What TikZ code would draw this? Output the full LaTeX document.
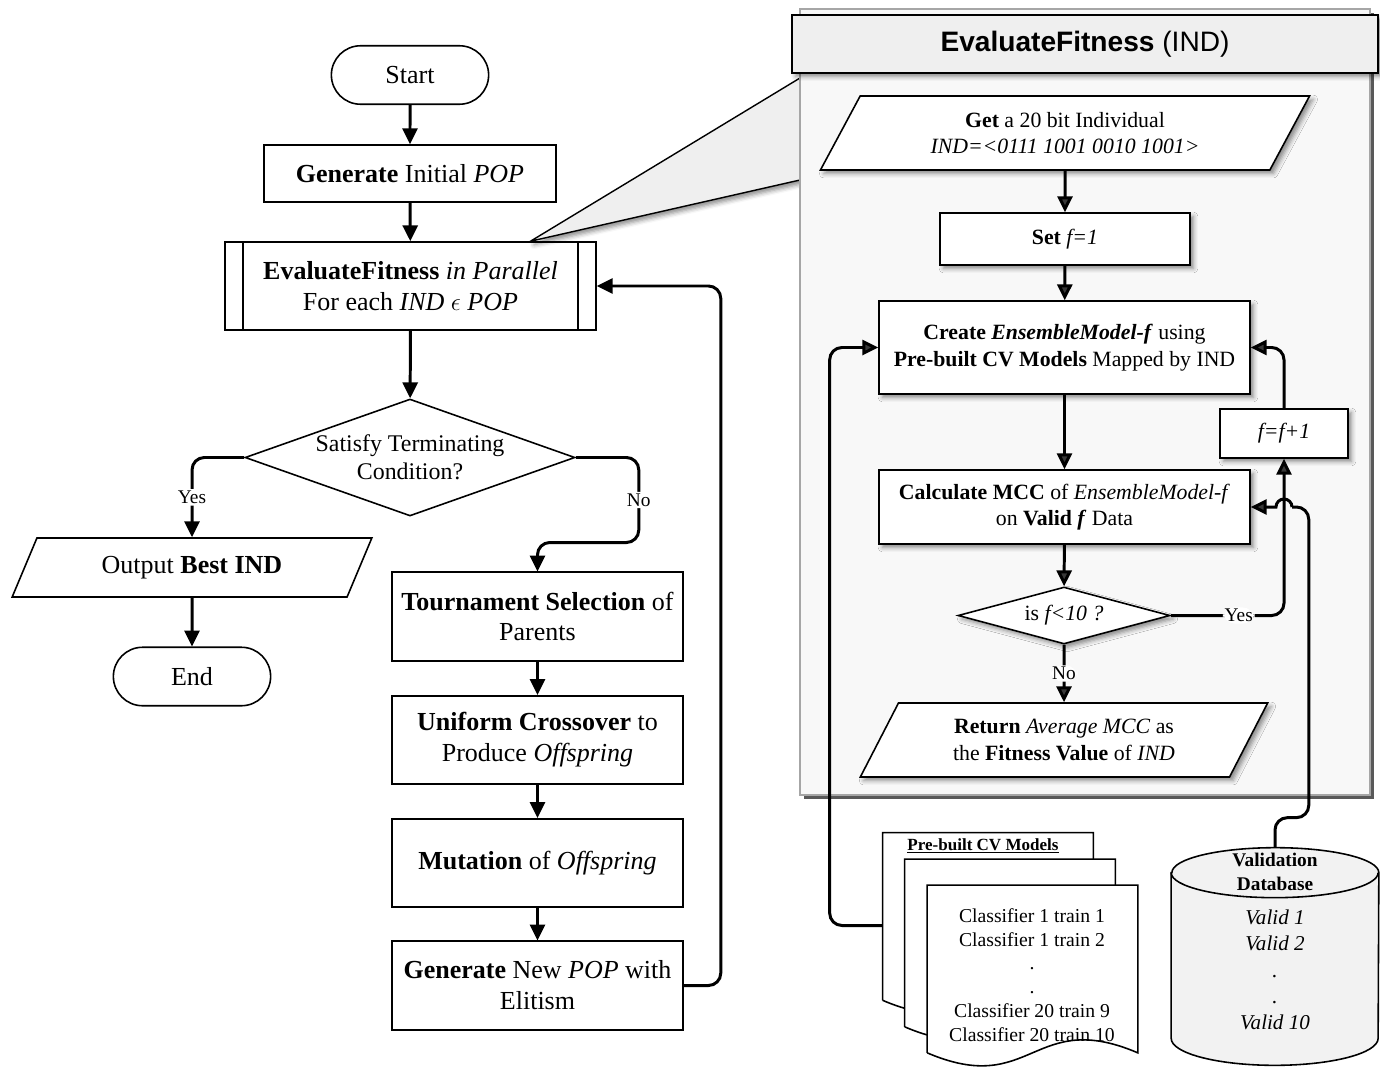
\documentclass[tikz,border=0pt]{standalone}
\usepackage{fontspec}
\setmainfont{Liberation Serif}
\setsansfont{Liberation Sans}
\usetikzlibrary{arrows.meta,shapes.geometric,shapes.misc,shadows,shadows.blur,calc}
\newcommand\bigtxt{\fontsize{14.8}{17.6}\selectfont}
\newcommand\midtxt{\fontsize{12.4}{15}\selectfont}
\newcommand\smalltxt{\fontsize{11.2}{13.5}\selectfont}
\definecolor{panelgray}{RGB}{248,248,248}
\definecolor{headgray}{RGB}{239,239,239}
\definecolor{dbgray}{RGB}{242,242,242}
\tikzset{
  conn/.style={line width=1.7pt, rounded corners=7pt, -{Triangle[length=9pt,width=8.5pt]}},
  lbl/.style={fill=white, inner sep=1pt, font=\fontsize{11}{13}\selectfont},
  process/.style={draw, line width=0.9pt, align=center, font=\bigtxt, minimum width=5.82cm, minimum height=1.77cm},
  terminal/.style={rounded rectangle, draw, line width=0.9pt, font=\bigtxt, minimum width=3.38cm, minimum height=1.17cm},
  decision/.style={diamond, draw, line width=0.9pt, align=center, inner sep=-1pt},
  io/.style={trapezium, trapezium left angle=63, trapezium right angle=117, trapezium stretches=true, draw, line width=0.9pt, align=center},
  soft/.style={blur shadow={shadow xshift=2pt, shadow yshift=-2pt, shadow blur radius=2.5pt, shadow opacity=45}},
  pbox/.style={draw, line width=0.9pt, fill=white, align=center, font=\midtxt, soft},
}
\begin{document}
\begin{tikzpicture}[x=0.02cm, y=-0.02cm]
  \useasboundingbox (0,0) rectangle (1380,1072);

  % main loop
  \node[terminal] (start) at (410,75) {Start};
  \node[process, minimum width=5.84cm, minimum height=1.14cm] (gen) at (410,173.5) {\textbf{Generate} Initial \textit{POP}};
  \node[process, minimum width=7.42cm, minimum height=1.76cm] (evalpar) at (410.5,286) {\textbf{EvaluateFitness} \textit{in Parallel}\\For each \textit{IND} $\epsilon$ \textit{POP}};
  \draw[line width=0.9pt] ([xshift=0.38cm]evalpar.north west) -- ([xshift=0.38cm]evalpar.south west);
  \draw[line width=0.9pt] ([xshift=-0.38cm]evalpar.north east) -- ([xshift=-0.38cm]evalpar.south east);
  \node[decision, aspect=2.82, minimum width=6.6cm, minimum height=2.34cm, font=\fontsize{13.6}{16}\selectfont] (term) at (410,457.5) {Satisfy Terminating\\Condition?};
  \node[io, trapezium left angle=66, trapezium right angle=114, minimum width=7.2cm, minimum height=1.18cm, font=\bigtxt] (out) at (192,567.5) {Output \textbf{Best IND}};
  \node[terminal] (stop) at (192,676.5) {End};
  \node[process] (tour) at (537.5,616.5) {\textbf{Tournament Selection} of\\Parents};
  \node[process] (cross) at (537.5,740) {\textbf{Uniform Crossover} to\\Produce \textit{Offspring}};
  \node[process] (mut) at (537.5,863) {\textbf{Mutation} of \textit{Offspring}};
  \node[process] (newpop) at (537.5,985.5) {\textbf{Generate} New \textit{POP} with\\Elitism};

  \draw[conn] (start) -- (gen);
  \draw[conn] (gen) -- (evalpar);
  \draw[conn] (evalpar) -- (term);
  \draw[conn] (term.west) -| node[lbl, pos=0.75] {Yes} (out.north);
  \draw[conn] (out) -- (stop);
  \draw[conn] (term.east) -| node[lbl, pos=0.75] {No} ++(63,85) -| (tour.north);
  \draw[conn] (tour) -- (cross);
  \draw[conn] (cross) -- (mut);
  \draw[conn] (mut) -- (newpop);
  \draw[conn] (newpop.east) -- ++(37,0) |- (evalpar.east);

  % zoom callout and panel
  \coordinate (tip) at ($(evalpar.north)+(120,0)$);
  \fill[headgray, soft] (tip) -- (800,78) -- (800,180) -- cycle;
  \draw[line width=0.8pt] (800,78) -- (tip) -- (800,180);
  \draw[gray!70, line width=0.6pt, fill=panelgray, drop shadow={shadow xshift=2.5pt, shadow yshift=-2.5pt, fill=black!65, opacity=1}] (800,9) rectangle (1370,795);
  \node[draw, line width=0.9pt, fill=headgray, soft, minimum width=11.72cm, minimum height=1.16cm, font=\sffamily\fontsize{16}{19}\selectfont] (head) at (1085,44) {\textbf{EvaluateFitness} (IND)};

  \node[io, fill=white, soft, minimum width=9.8cm, minimum height=1.48cm, font=\midtxt] (get) at (1065,133) {\textbf{Get} a 20 bit Individual\\\textit{IND=<0111 1001 0010 1001>}};
  \node[pbox, minimum width=5cm, minimum height=1.04cm] (setf) at (1065,239) {\textbf{Set} \textit{f=1}};
  \node[pbox, minimum width=7.42cm, minimum height=1.86cm] (create) at (1064.5,347.5) {\textbf{Create \textit{EnsembleModel-f}} using\\\textbf{Pre-built CV Models} Mapped by IND};
  \node[pbox, minimum width=7.42cm, minimum height=1.48cm] (calc) at (1064.5,507) {\textbf{Calculate MCC} of \textit{EnsembleModel-f}\\on \textbf{Valid \textit{f}} Data};
  \node[pbox, minimum width=2.56cm, minimum height=0.98cm] (inc) at (1284,433.5) {\textit{f=f+1}};
  \node[decision, fill=white, soft, aspect=3.7, minimum width=4.24cm, minimum height=1.14cm, font=\midtxt] (check) at (1064,615.5) {is \textit{f<10 ?}};
  \node[io, fill=white, soft, minimum width=8.16cm, minimum height=1.48cm, font=\midtxt] (ret) at (1064,740) {\textbf{Return} \textit{Average MCC} as\\the \textbf{Fitness Value} of \textit{IND}};

  \draw[conn] (get) -- (setf);
  \draw[conn] (setf) -- (create);
  \draw[conn] (create) -- (calc);
  \draw[conn] (calc) -- (check);
  \draw[conn] (check.south) -- node[lbl] {No} (ret.north);
  \draw[conn] (check.east) -| node[lbl, pos=0.3] {Yes} (inc.south);
  \draw[conn] (inc.north) |- (create.east);

  % stacked documents
  \foreach \n/\x/\y in {docA/988/916.5, docB/1010/943, docC/1032.5/969} {
    \node[minimum width=4.2cm, minimum height=3.34cm, inner sep=0pt] (\n) at (\x,\y) {};
    \draw[line width=0.9pt, fill=white] (\n.south west) -- (\n.north west) -- (\n.north east) -- (\n.south east)
      .. controls ($(\n.south)+(0,-45)$) and ($(\n.south)+(0,45)$) .. (\n.south west);
  }
  \node[font=\bfseries\fontsize{9.7}{11}\selectfont] (doctitle) at (983,846) {\underline{Pre-built CV Models}};
  \node[font=\smalltxt, align=center] (doctext) at (1032,975) {Classifier 1 train 1\\Classifier 1 train 2\\.\\.\\Classifier 20 train 9\\Classifier 20 train 10};

  % database
  \node[minimum width=4.14cm, minimum height=4.34cm, inner sep=0pt] (db) at (1275,956.5) {};
  \draw[line width=0.9pt, fill=dbgray] ([yshift=-0.5cm]db.north west) -- ([yshift=0.54cm]db.south west)
    arc[start angle=180, end angle=360, x radius=2.07cm, y radius=0.54cm] -- ([yshift=-0.5cm]db.north east)
    arc[start angle=0, end angle=180, x radius=2.07cm, y radius=0.5cm] -- cycle;
  \draw[line width=0.9pt] ([yshift=-0.5cm]db.north west) arc[start angle=180, end angle=360, x radius=2.07cm, y radius=0.5cm];
  \node[font=\bfseries\fontsize{11}{13.5}\selectfont, align=center] (dbtitle) at (1275,872) {Validation\\Database};
  \node[font=\itshape\fontsize{12}{15}\selectfont, align=center] (dbtext) at (1275,970) {Valid 1\\Valid 2\\.\\.\\Valid 10};

  \draw[conn] ($(docA.west)+(0,9)$) -- ++(-53,0) |- (create.west);
  \coordinate (hop) at ($(inc.south |- calc.east)+(8,0)$);
  \draw[conn, -] (db.north) -- ++(0,-30) -| ($(calc.east)+(58,0)$) -- (hop);
  \draw[conn, sharp corners] (hop) arc[start angle=0, end angle=180, radius=0.16cm] -- (calc.east);
\end{tikzpicture}
\end{document}
